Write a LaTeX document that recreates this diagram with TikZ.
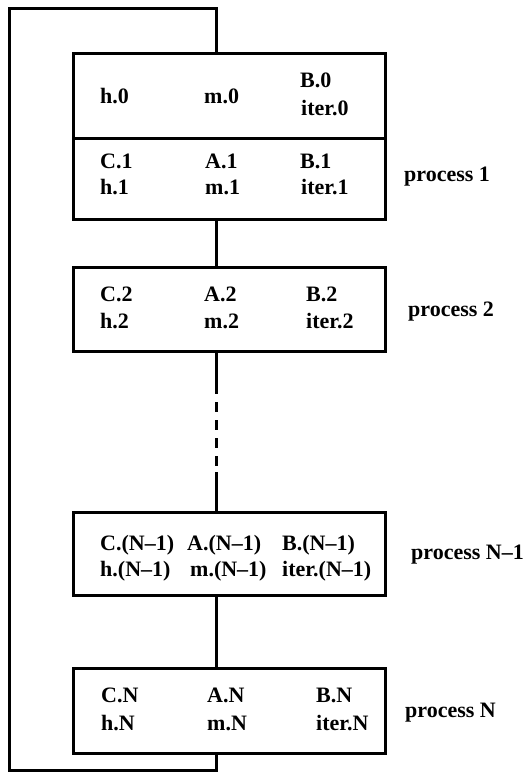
\documentclass[tikz,border=0pt]{standalone}
\usepackage{fontspec}
\setmainfont{Liberation Serif}
\begin{document}
\begin{tikzpicture}[x=1pt,y=-1pt,
  box/.style={draw, line width=3pt, minimum width=312pt, inner sep=0pt},
  lbl/.style={anchor=base west, inner sep=0pt, font=\fontsize{22}{22}\selectfont\bfseries},
  wire/.style={line width=3pt},
  gap/.style={line width=3pt, dash pattern=on 10pt off 8pt, dash phase=8pt},
]
\useasboundingbox (0,0) rectangle (529,773);

% process boxes
\node[box, minimum height=84pt] (box0) at (229,96) {};
\node[box, minimum height=81pt] (box1) at (229,178.5) {};
\node[box, minimum height=84pt] (box2) at (229,309) {};
\node[box, minimum height=83pt] (boxN1) at (229,553.5) {};
\node[box, minimum height=85pt] (boxN) at (229,710.5) {};

% initial values
\node[lbl] (h0) at (100,104) {h.0};
\node[lbl] (m0) at (204,104) {m.0};
\node[lbl] (b0) at (300,88) {B.0};
\node[lbl] (it0) at (301,116) {iter.0};

% process 1
\node[lbl] (c1) at (100,168) {C.1};
\node[lbl] (a1) at (205,168) {A.1};
\node[lbl] (b1) at (300,168) {B.1};
\node[lbl] (h1) at (100,194) {h.1};
\node[lbl] (m1) at (205,194) {m.1};
\node[lbl] (it1) at (301,194) {iter.1};
\node[lbl] (p1) at (404,181) {process 1};

% process 2
\node[lbl] (c2) at (100,301) {C.2};
\node[lbl] (a2) at (204,301) {A.2};
\node[lbl] (b2) at (306,301) {B.2};
\node[lbl] (h2) at (100,328) {h.2};
\node[lbl] (m2) at (204,328) {m.2};
\node[lbl] (it2) at (306,328) {iter.2};
\node[lbl] (p2) at (408,316) {process 2};

% process N-1
\node[lbl] (cN1) at (100,550) {C.(N–1)};
\node[lbl] (aN1) at (187,550) {A.(N–1)};
\node[lbl] (bN1) at (282,550) {B.(N–1)};
\node[lbl] (hN1) at (100,576) {h.(N–1)};
\node[lbl] (mN1) at (190,576) {m.(N–1)};
\node[lbl] (itN1) at (282,576) {iter.(N–1)};
\node[lbl] (pN1) at (411,559) {process N–1};

% process N
\node[lbl] (cN) at (101,702) {C.N};
\node[lbl] (aN) at (207,702) {A.N};
\node[lbl] (bN) at (316,702) {B.N};
\node[lbl] (hN) at (101,730) {h.N};
\node[lbl] (mN) at (207,730) {m.N};
\node[lbl] (itN) at (316,730) {iter.N};
\node[lbl] (pN) at (405,717) {process N};

% connector spine and loop corners
\coordinate (spine) at (216,0);
\coordinate (tl) at (9,9);
\coordinate (bl) at (9,770);
\coordinate (d1) at (216,392);
\coordinate (d2) at (216,472);

\draw[wire] (box1.south -| spine) -- (box2.north -| spine);
\draw[wire] (box2.south -| spine) -- (d1);
\draw[gap] (d1) -- (d2);
\draw[wire] (d2) -- (boxN1.north -| spine);
\draw[wire] (boxN1.south -| spine) -- (boxN.north -| spine);

% feedback loop from the last process back to the first
\draw[wire, line join=miter] (boxN.south -| spine) |- (bl) -- (tl) -| (box0.north -| spine);
\end{tikzpicture}
\end{document}
